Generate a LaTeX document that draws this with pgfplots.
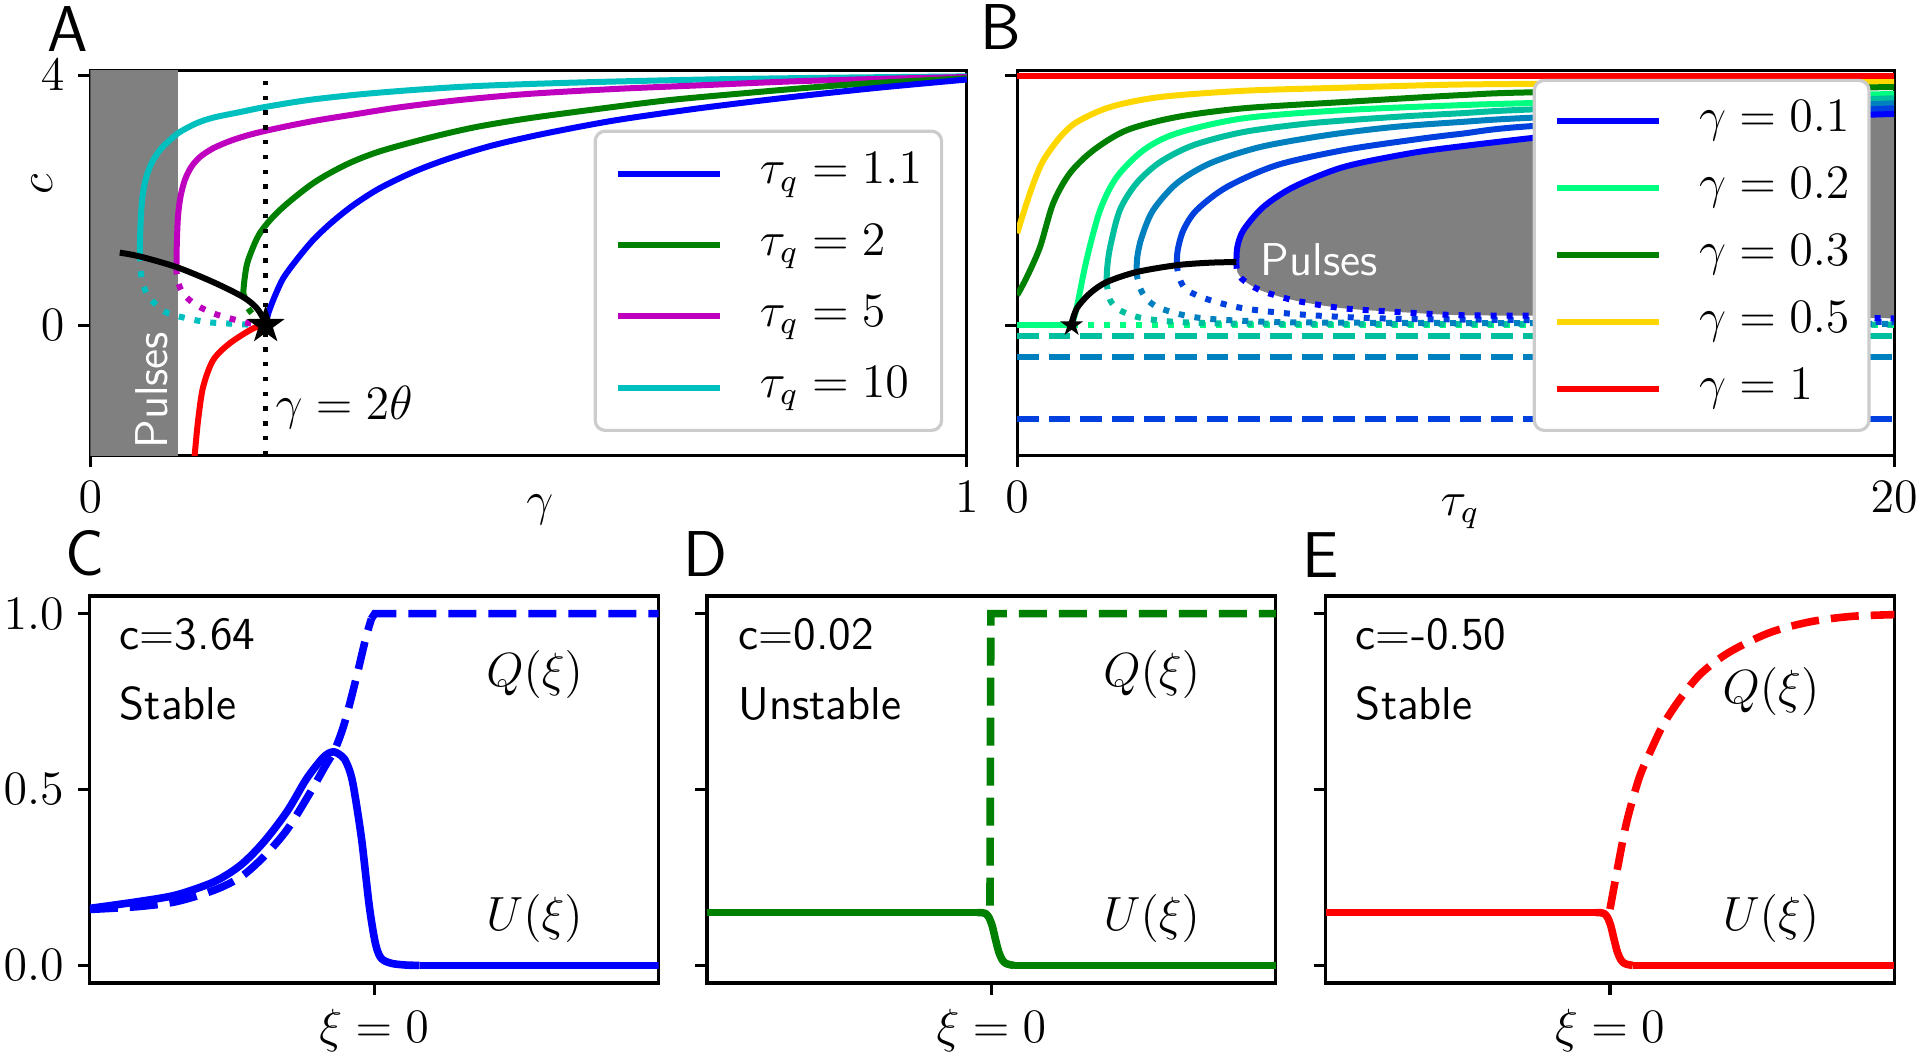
\documentclass[border=0pt]{standalone}
\usepackage{pgfplots}
\pgfplotsset{compat=1.18}

\definecolor{mpblue}{HTML}{0000FF}
\definecolor{mpgreen}{HTML}{008000}
\definecolor{mpmag}{HTML}{BF00BF}
\definecolor{mpcyan}{HTML}{00BFBF}
\definecolor{mpred}{HTML}{FF0000}
\definecolor{wA}{HTML}{0000FF}
\definecolor{wB}{HTML}{0040DF}
\definecolor{wC}{HTML}{0080BF}
\definecolor{wD}{HTML}{00BF9F}
\definecolor{wE}{HTML}{00FF80}
\definecolor{mpgold}{HTML}{FFD700}
\definecolor{legframe}{HTML}{CCCCCC}
\definecolor{pulsegray}{HTML}{808080}

\pgfdeclareplotmark{fstar}{%
  \pgfpathmoveto{\pgfpointpolar{90}{\pgfplotmarksize}}%
  \pgfpathlineto{\pgfpointpolar{126}{0.382\pgfplotmarksize}}%
  \pgfpathlineto{\pgfpointpolar{162}{\pgfplotmarksize}}%
  \pgfpathlineto{\pgfpointpolar{198}{0.382\pgfplotmarksize}}%
  \pgfpathlineto{\pgfpointpolar{234}{\pgfplotmarksize}}%
  \pgfpathlineto{\pgfpointpolar{270}{0.382\pgfplotmarksize}}%
  \pgfpathlineto{\pgfpointpolar{306}{\pgfplotmarksize}}%
  \pgfpathlineto{\pgfpointpolar{342}{0.382\pgfplotmarksize}}%
  \pgfpathlineto{\pgfpointpolar{18}{\pgfplotmarksize}}%
  \pgfpathlineto{\pgfpointpolar{54}{0.382\pgfplotmarksize}}%
  \pgfpathclose
  \pgfusepathqfill
}

\pgfplotsset{
  every axis/.append style={
    scale only axis,
    font=\fontsize{11.5}{13.8}\selectfont,
    axis line style={line width=0.8pt},
    tick style={line width=0.8pt, black},
    tick align=outside,
    tick pos=left,
    major tick length=3pt,
    yticklabel style={inner ysep=0.5pt},
  },
  sol/.style={line width=1.5pt, line join=round},
  dotc/.style={line width=1.5pt, dash pattern=on 1.5pt off 2.5pt},
  dashc/.style={line width=1.5pt, dash pattern=on 5.4pt off 2.5pt},
  lsol/.style={line width=1.9pt, line join=round},
  ldash/.style={line width=1.9pt, dash pattern=on 7pt off 3pt},
  mylegend/.style={
    legend style={
      at={(axis description cs:1,0)}, anchor=south east, xshift=-5.9pt, yshift=5.8pt,
      draw=legframe, line width=0.8pt, rounded corners=2.5pt, fill=white,
      inner xsep=4.9pt, inner ysep=#1,
      font=\fontsize{11.7}{14}\selectfont,
      /tikz/every odd column/.append style={column sep=9.2pt},
    },
    legend cell align=left,
    legend image code/.code={\draw[##1, line width=1.5pt, solid] (0pt,0pt) -- (25.6pt,0pt);},
  },
}

\begin{document}
\begin{tikzpicture}
\useasboundingbox (0,0) rectangle (480pt,264.5pt);

% ---------------- Panel A ----------------
\begin{axis}[
  at={(22.6pt,246.8pt)}, anchor=north west,
  width=219.1pt, height=96.1pt,
  xmin=0, xmax=1, ymin=-2.08, ymax=4.07,
  xtick={0,1}, ytick={0,4},
  xlabel={$\gamma$},
  xlabel style={at={(axis description cs:0.513,-0.156)}, anchor=base},
  mylegend=5.2pt,
  legend style={row sep=6.8pt, nodes={inner sep=0pt, text height=8pt, text depth=3pt}},
  clip mode=individual,
]
\addplot[fill=pulsegray, draw=none, forget plot] coordinates {(0,-3) (0.1,-3) (0.1,5) (0,5)};
% red branch
\addplot[sol, mpred, smooth, forget plot] coordinates {(0.2,0) (0.186,-0.05) (0.159,-0.29) (0.140,-0.56) (0.1286,-0.99) (0.1229,-1.52) (0.119,-2.08) (0.117,-2.4)};
% dotted unstable branches
\addplot[dotc, mpcyan, smooth, forget plot] coordinates {(0.0563,1.12) (0.0583,0.77) (0.064,0.51) (0.0754,0.32) (0.0887,0.19) (0.11,0.11) (0.132,0.05) (0.159,0.025) (0.186,0.005) (0.2,0)};
\addplot[dotc, mpmag, smooth, forget plot] coordinates {(0.0982,0.91) (0.0985,0.83) (0.102,0.61) (0.1096,0.45) (0.121,0.32) (0.140,0.19) (0.159,0.11) (0.178,0.04) (0.190,0.01) (0.2,0)};
\addplot[dotc, mpgreen, smooth, forget plot] coordinates {(0.1743,0.51) (0.176,0.45) (0.18,0.27) (0.19,0.1) (0.2,0)};
% solid stable branches
\addplot[sol, mpcyan, smooth, forget plot] coordinates {(0.0563,1.12) (0.0571,1.57) (0.059,2.0) (0.0628,2.32) (0.0697,2.59) (0.0792,2.8) (0.0906,2.96) (0.102,3.09) (0.121,3.23) (0.140,3.32) (0.171,3.41) (0.199,3.49) (0.253,3.61) (0.329,3.72) (0.432,3.82) (0.55,3.88) (0.7,3.93) (0.85,3.96) (1.0,3.98)};
\addplot[sol, mpmag, smooth, forget plot] coordinates {(0.0982,0.91) (0.0986,1.3) (0.1,1.75) (0.103,2.07) (0.108,2.33) (0.115,2.53) (0.125,2.69) (0.14,2.83) (0.16,2.95) (0.18,3.04) (0.2,3.11) (0.23,3.2) (0.26,3.28) (0.3,3.37) (0.35,3.48) (0.42,3.6) (0.5,3.7) (0.6,3.78) (0.7,3.84) (0.8,3.9) (0.9,3.94) (1.0,3.97)};
\addplot[sol, mpgreen, smooth, forget plot] coordinates {(0.1743,0.51) (0.1762,0.77) (0.18,1.04) (0.1933,1.47) (0.216,1.84) (0.254,2.27) (0.292,2.57) (0.330,2.78) (0.387,3.0) (0.44,3.17) (0.5,3.31) (0.585,3.47) (0.66,3.6) (0.737,3.7) (0.82,3.8) (0.889,3.87) (1.0,3.95)};
\addplot[sol, mpblue, smooth, forget plot] coordinates {(0.2,0) (0.203,0.19) (0.21,0.45) (0.22,0.75) (0.235,1.04) (0.254,1.36) (0.275,1.64) (0.3,1.92) (0.33,2.19) (0.37,2.46) (0.41,2.67) (0.46,2.88) (0.52,3.07) (0.6,3.28) (0.7,3.48) (0.8,3.65) (0.9,3.8) (1.0,3.93)};
% fold curve
\addplot[sol, black, smooth, forget plot] coordinates {(0.0335,1.16) (0.0563,1.1) (0.0982,0.93) (0.140,0.69) (0.1743,0.45) (0.190,0.27) (0.199,0.06) (0.2,0)};
% gamma = 2 theta
\addplot[black, line width=1.1pt, dash pattern=on 1.1pt off 2.6pt, forget plot] coordinates {(0.2,-2.08) (0.2,4.07)};
\addplot[only marks, mark=fstar, mark size=5pt, black, forget plot] coordinates {(0.2,0)};
\node[rotate=90, anchor=center, text=white, font=\fontsize{11.5}{13}\sffamily] at (axis cs:0.0697,-1.04) {Pulses};
\node[anchor=base west, inner sep=0pt] at (axis cs:0.2104,-1.51) {$\gamma = 2\theta$};
\node[rotate=90, anchor=center, inner sep=0pt] at (axis description cs:-0.0555,0.705) {$c$};
\addlegendimage{mpblue}\addlegendentry{$\tau_q = 1.1$}
\addlegendimage{mpgreen}\addlegendentry{$\tau_q = 2$}
\addlegendimage{mpmag}\addlegendentry{$\tau_q = 5$}
\addlegendimage{mpcyan}\addlegendentry{$\tau_q = 10$}
\end{axis}

% ---------------- Panel B ----------------
\begin{axis}[
  at={(254.3pt,246.8pt)}, anchor=north west,
  width=219.25pt, height=96.1pt,
  xmin=0, xmax=20, ymin=-2.08, ymax=4.07,
  xtick={0,20}, ytick={0,4}, yticklabels={},
  xlabel={$\tau_q$},
  xlabel style={at={(axis description cs:0.505,-0.156)}, anchor=base},
  mylegend=4.85pt,
  legend style={row sep=5.95pt, nodes={inner sep=0pt, text height=8pt, text depth=2.8pt}},
]
% pulses region
\addplot[fill=pulsegray, draw=none, smooth, forget plot] coordinates {(5.0,1.0) (5.02,1.25) (5.16,1.52) (5.61,1.89) (6.3,2.21) (7.44,2.53) (8.96,2.75) (10.1,2.86) (12.07,3.02) (14,3.15) (16,3.25) (18,3.33) (20,3.38) (21,3.4) (21,0.1) (20,0.11) (12.07,0.15) (10.1,0.16) (8.96,0.2) (7.44,0.27) (6.3,0.4) (5.54,0.56) (5.16,0.72) (5.02,0.85)};
% dashed constant branches
\addplot[dashc, wD, forget plot] coordinates {(0,-0.176) (20,-0.176)};
\addplot[dashc, wC, forget plot] coordinates {(0,-0.51) (20,-0.51)};
\addplot[dashc, wB, forget plot] coordinates {(0,-1.50) (20,-1.50)};
% dotted unstable branches
\addplot[dotc, wE, forget plot] coordinates {(1.24,0) (20,0)};
\addplot[dotc, wD, smooth, forget plot] coordinates {(2.04,0.67) (2.12,0.4) (2.34,0.24) (2.88,0.11) (4.02,0.04) (7,0.02) (20,0.01)};
\addplot[dotc, wC, smooth, forget plot] coordinates {(2.72,0.83) (2.8,0.6) (2.95,0.42) (3.26,0.27) (4.02,0.13) (5.16,0.07) (7.44,0.04) (20,0.02)};
\addplot[dotc, wB, smooth, forget plot] coordinates {(3.64,0.96) (3.7,0.75) (3.87,0.56) (4.4,0.4) (5.16,0.27) (6.3,0.18) (7.82,0.12) (10.1,0.09) (20,0.05)};
\addplot[dotc, wA, smooth, forget plot] coordinates {(5.0,1.0) (5.02,0.85) (5.16,0.72) (5.54,0.56) (6.3,0.4) (7.44,0.27) (8.96,0.2) (10.1,0.16) (12.07,0.15) (20,0.11)};
% solid stable branches
\addplot[sol, mpred, forget plot] coordinates {(0,3.98) (20,3.98)};
\addplot[sol, mpgold, smooth, forget plot] coordinates {(0,1.47) (0.14,1.79) (0.37,2.27) (0.6,2.64) (0.98,3.01) (1.36,3.25) (2.12,3.49) (3.26,3.65) (5.16,3.75) (7.44,3.8) (10.1,3.85) (14,3.87) (20,3.89)};
\addplot[sol, mpgreen, smooth, forget plot] coordinates {(0,0.48) (0.22,0.77) (0.52,1.25) (0.82,1.95) (1.2,2.43) (1.74,2.8) (2.5,3.12) (3.64,3.33) (5.16,3.47) (7.44,3.57) (10.1,3.68) (12.07,3.73) (20,3.81)};
\addplot[sol, wE, forget plot] coordinates {(0,0) (1.24,0)};
\addplot[sol, wE, smooth, forget plot] coordinates {(1.24,0) (1.36,0.29) (1.58,1.04) (1.89,1.84) (2.27,2.37) (2.88,2.8) (3.64,3.07) (5.16,3.31) (7.44,3.44) (10.1,3.52) (12.07,3.56) (20,3.70)};
\addplot[sol, wD, smooth, forget plot] coordinates {(2.04,0.67) (2.05,0.9) (2.12,1.25) (2.34,1.84) (2.72,2.27) (3.26,2.61) (4.02,2.88) (5.16,3.09) (6.68,3.23) (8.58,3.33) (10.1,3.39) (12.07,3.46) (20,3.63)};
\addplot[sol, wC, smooth, forget plot] coordinates {(2.72,0.83) (2.74,1.1) (2.84,1.41) (3.1,1.84) (3.64,2.27) (4.4,2.59) (5.54,2.85) (7.06,3.04) (8.58,3.17) (10.1,3.25) (12.07,3.33) (20,3.55)};
\addplot[sol, wB, smooth, forget plot] coordinates {(3.64,0.96) (3.66,1.2) (3.79,1.52) (4.09,1.84) (4.78,2.21) (5.92,2.56) (7.44,2.8) (8.96,2.96) (10.1,3.06) (12.07,3.2) (20,3.47)};
\addplot[sol, wA, smooth, forget plot] coordinates {(5.0,1.0) (5.02,1.25) (5.16,1.52) (5.61,1.89) (6.3,2.21) (7.44,2.53) (8.96,2.75) (10.1,2.86) (12.07,3.02) (14,3.15) (16,3.25) (18,3.33) (20,3.38)};
% fold curve
\addplot[sol, black, smooth, forget plot] coordinates {(1.24,0) (1.36,0.27) (1.66,0.51) (2.04,0.69) (2.72,0.85) (3.64,0.96) (4.4,1.0) (5.0,1.01)};
\addplot[only marks, mark=fstar, mark size=3pt, black, forget plot] coordinates {(1.24,0)};
\node[anchor=base west, inner sep=0pt, text=white, font=\fontsize{11.5}{13}\sffamily] at (axis cs:5.54,0.8) {Pulses};
\addlegendimage{wA}\addlegendentry{$\gamma = 0.1$}
\addlegendimage{wE}\addlegendentry{$\gamma = 0.2$}
\addlegendimage{mpgreen}\addlegendentry{$\gamma = 0.3$}
\addlegendimage{mpgold}\addlegendentry{$\gamma = 0.5$}
\addlegendimage{mpred}\addlegendentry{$\gamma = 1$}
\end{axis}

% ---------------- Panel C ----------------
\begin{axis}[
  at={(22.45pt,115.5pt)}, anchor=north west,
  width=142.2pt, height=96.75pt,
  xmin=-10, xmax=10, ymin=-0.05, ymax=1.05,
  xtick={0}, xticklabels={$\xi = 0$},
  ytick={0,0.5,1}, yticklabels={$0.0$,$0.5$,$1.0$},
]
\addplot[ldash, mpblue, smooth] coordinates {(-10,0.159) (-8.32,0.167) (-6.97,0.181) (-5.62,0.214) (-4.68,0.252) (-3.87,0.31) (-3.06,0.386) (-2.26,0.49) (-1.72,0.567) (-1.38,0.614) (-1.04,0.69) (-0.64,0.814) (-0.3,0.929) (-0.1,0.985)};
\addplot[ldash, mpblue] coordinates {(-0.1,0.985) (0.02,1.0) (10,1.0)};
\addplot[lsol, mpblue, smooth] coordinates {(-10,0.162) (-8.32,0.181) (-6.97,0.2) (-5.62,0.238) (-4.68,0.286) (-3.87,0.352) (-3.06,0.438) (-2.39,0.529) (-1.85,0.586) (-1.6,0.603) (-1.42,0.607) (-1.25,0.601) (-1.04,0.586) (-0.85,0.55) (-0.71,0.5) (-0.44,0.357) (-0.17,0.167) (0.05,0.06) (0.25,0.02) (0.6,0.006) (1.11,0.001) (1.6,0)};
\addplot[lsol, mpblue] coordinates {(1.6,0) (10,0)};
\node[anchor=base west, inner sep=0pt, font=\fontsize{11.5}{13}\sffamily] at (axis cs:-8.97,0.898) {c=3.64};
\node[anchor=base west, inner sep=0pt, font=\fontsize{11.5}{13}\sffamily] at (axis cs:-8.97,0.698) {Stable};
\node[anchor=base, inner sep=0pt] at (axis cs:5.64,0.792) {$Q(\xi)$};
\node[anchor=base, inner sep=0pt] at (axis cs:5.64,0.10) {$U(\xi)$};
\end{axis}

% ---------------- Panel D ----------------
\begin{axis}[
  at={(176.75pt,115.5pt)}, anchor=north west,
  width=142.2pt, height=96.75pt,
  xmin=-10, xmax=10, ymin=-0.05, ymax=1.05,
  xtick={0}, xticklabels={$\xi = 0$},
  ytick={0,0.5,1}, yticklabels={},
]
\addplot[ldash, mpgreen] coordinates {(-0.05,0.17) (-0.02,1.0) (10,1.0)};
\addplot[lsol, mpgreen] coordinates {(-10,0.15) (-0.5,0.15)};
\addplot[lsol, mpgreen, smooth] coordinates {(-0.5,0.15) (-0.35,0.15) (-0.22,0.148) (-0.1,0.138) (0.02,0.115) (0.14,0.075) (0.26,0.038) (0.38,0.016) (0.5,0.006) (0.65,0.002) (0.8,0)};
\addplot[lsol, mpgreen] coordinates {(0.8,0) (10,0)};
\node[anchor=base west, inner sep=0pt, font=\fontsize{11.5}{13}\sffamily] at (axis cs:-8.92,0.898) {c=0.02};
\node[anchor=base west, inner sep=0pt, font=\fontsize{11.5}{13}\sffamily] at (axis cs:-8.92,0.698) {Unstable};
\node[anchor=base, inner sep=0pt] at (axis cs:5.64,0.792) {$Q(\xi)$};
\node[anchor=base, inner sep=0pt] at (axis cs:5.64,0.10) {$U(\xi)$};
\end{axis}

% ---------------- Panel E ----------------
\begin{axis}[
  at={(331.4pt,115.5pt)}, anchor=north west,
  width=142.2pt, height=96.75pt,
  xmin=-10, xmax=10, ymin=-0.05, ymax=1.05,
  xtick={0}, xticklabels={$\xi = 0$},
  ytick={0,0.5,1}, yticklabels={},
]
\addplot[ldash, mpred, smooth] coordinates {(0,0.16) (0.32,0.3) (0.6,0.412) (1.03,0.534) (1.46,0.615) (1.89,0.687) (2.47,0.758) (3.19,0.829) (4.19,0.89) (5.62,0.946) (7.06,0.977) (8.49,0.992) (10,0.997)};
\addplot[lsol, mpred] coordinates {(-10,0.15) (-0.5,0.15)};
\addplot[lsol, mpred, smooth] coordinates {(-0.5,0.15) (-0.35,0.15) (-0.22,0.148) (-0.1,0.138) (0.02,0.115) (0.14,0.075) (0.26,0.038) (0.38,0.016) (0.5,0.006) (0.65,0.002) (0.8,0)};
\addplot[lsol, mpred] coordinates {(0.8,0) (10,0)};
\node[anchor=base west, inner sep=0pt, font=\fontsize{11.5}{13}\sffamily] at (axis cs:-8.96,0.898) {c=-0.50};
\node[anchor=base west, inner sep=0pt, font=\fontsize{11.5}{13}\sffamily] at (axis cs:-8.96,0.698) {Stable};
\node[anchor=base, inner sep=0pt] at (axis cs:5.66,0.745) {$Q(\xi)$};
\node[anchor=base, inner sep=0pt] at (axis cs:5.66,0.10) {$U(\xi)$};
\end{axis}

% panel letters
\node[anchor=base west, inner sep=0pt, font=\fontsize{16.2}{19}\sffamily] at (11.75pt,251.5pt) {A};
\node[anchor=base west, inner sep=0pt, font=\fontsize{16.2}{19}\sffamily] at (245pt,252pt) {B};
\node[anchor=base west, inner sep=0pt, font=\fontsize{16.2}{19}\sffamily] at (16.25pt,120.6pt) {C};
\node[anchor=base west, inner sep=0pt, font=\fontsize{16.2}{19}\sffamily] at (170.75pt,120.4pt) {D};
\node[anchor=base west, inner sep=0pt, font=\fontsize{16.2}{19}\sffamily] at (325.5pt,120pt) {E};
\end{tikzpicture}
\end{document}
